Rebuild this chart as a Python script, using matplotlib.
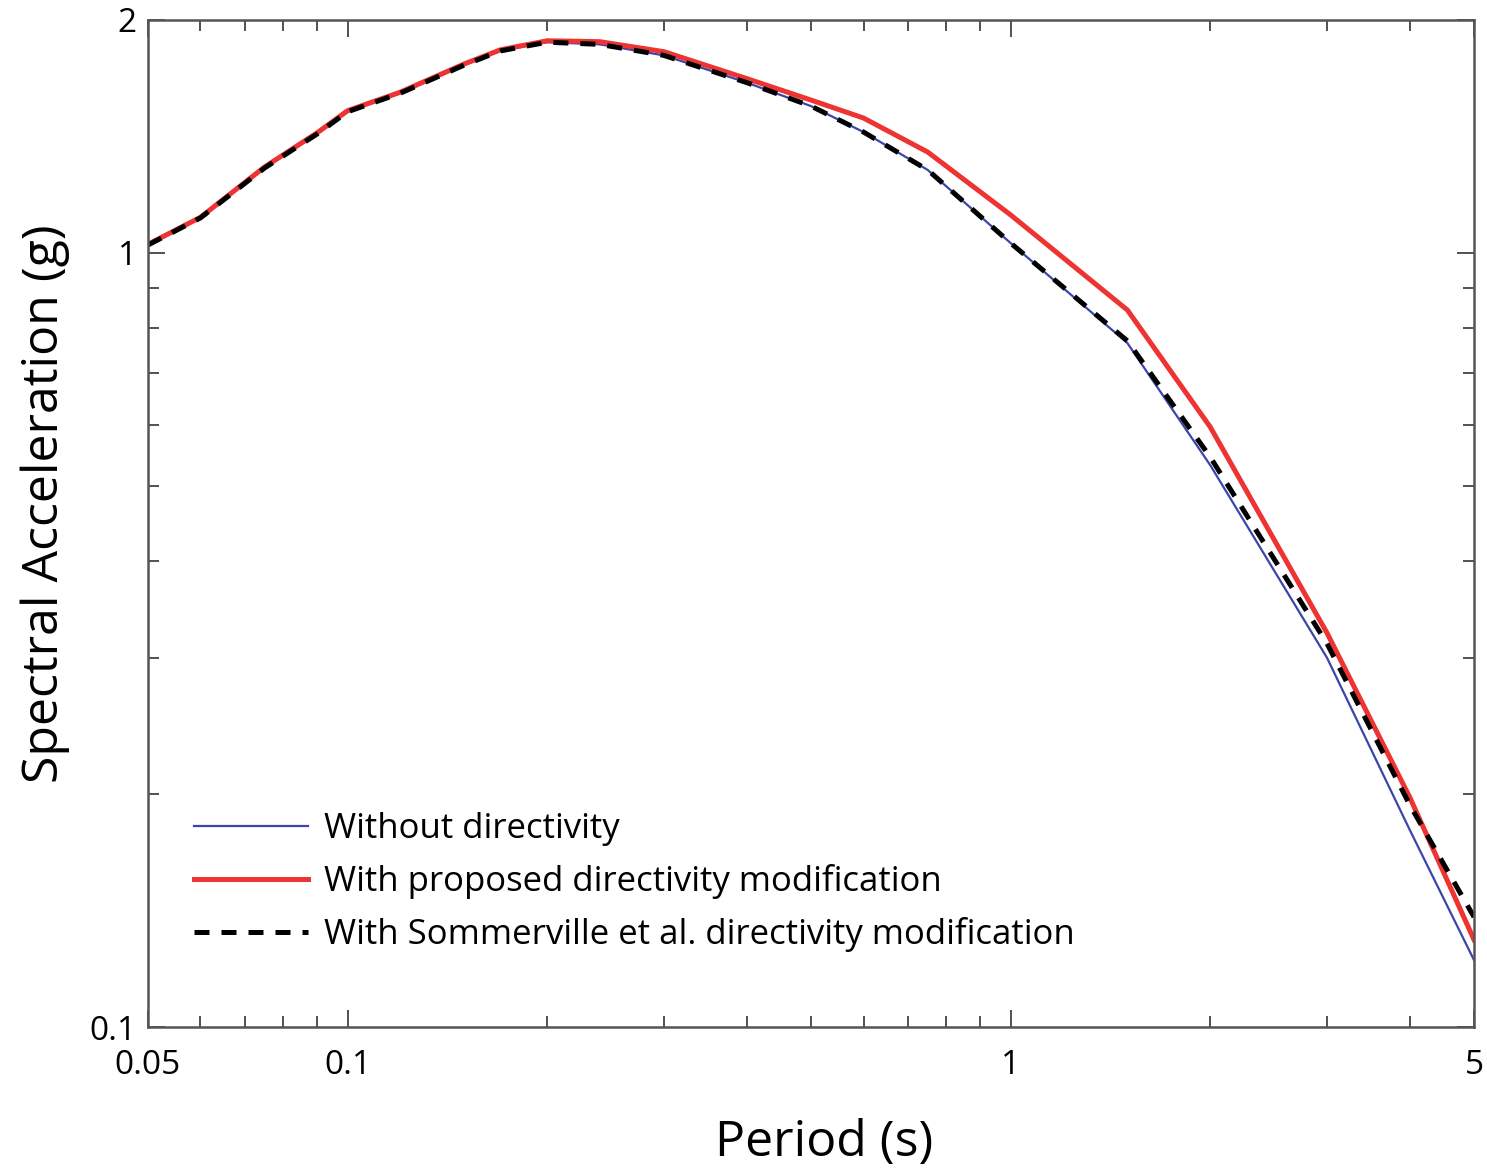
#!/usr/bin/env python3
"""
Response spectra with and without directivity modification (log-log).
"""

import matplotlib
matplotlib.use('Agg')
import matplotlib.pyplot as plt
from matplotlib.ticker import FixedLocator, LogLocator, NullFormatter, FixedFormatter

plt.rcParams['font.family'] = ['Open Sans', 'DejaVu Sans']

# Periods (s) and spectral accelerations (g)
period = [0.05, 0.06, 0.075, 0.09, 0.1, 0.12, 0.15, 0.17, 0.2, 0.24, 0.3,
          0.4, 0.5, 0.6, 0.75, 1.0, 1.5, 2.0, 3.0, 4.0, 5.0]
sa_none = [1.024, 1.11, 1.288, 1.425, 1.522, 1.608, 1.749, 1.824, 1.872, 1.86, 1.80,
           1.66, 1.548, 1.433, 1.28, 1.03, 0.765, 0.532, 0.300, 0.1797, 0.122]
sa_proposed = [1.026, 1.112, 1.292, 1.43, 1.527, 1.613, 1.755, 1.83, 1.88, 1.875, 1.82,
               1.68, 1.576, 1.494, 1.35, 1.12, 0.844, 0.596, 0.323, 0.198, 0.1296]
sa_sommerville = [1.024, 1.11, 1.288, 1.425, 1.522, 1.608, 1.749, 1.824, 1.872, 1.86, 1.80,
                  1.66, 1.548, 1.433, 1.28, 1.03, 0.77, 0.545, 0.313, 0.1936, 0.1387]

labels = ['Without directivity',
          'With proposed directivity modification',
          'With Sommerville et al. directivity modification']

x_ticks = [0.05, 0.1, 1, 5]
x_ticklabels = ['0.05', '0.1', '1', '5']
y_ticks = [0.1, 1, 2]
y_ticklabels = ['0.1', '1', '2']

fig = plt.figure(figsize=(14.87, 11.68), dpi=100)
ax = fig.add_axes([0.0995, 0.1207, 0.8918, 0.8622])

ax.plot(period, sa_none, color='#3a46a8', linewidth=1.6, label=labels[0])
ax.plot(period, sa_proposed, color='#ee3333', linewidth=3.6, label=labels[1])
ax.plot(period, sa_sommerville, color='black', linewidth=3.6, dashes=(3, 2.4),
        label=labels[2])

ax.set_xscale('log')
ax.set_yscale('log')
ax.set_xlim(0.05, 5)
ax.set_ylim(0.1, 2)

ax.xaxis.set_major_locator(FixedLocator(x_ticks))
ax.xaxis.set_major_formatter(FixedFormatter(x_ticklabels))
ax.xaxis.set_minor_locator(LogLocator(base=10, subs=range(2, 10), numticks=20))
ax.xaxis.set_minor_formatter(NullFormatter())
ax.yaxis.set_major_locator(FixedLocator(y_ticks))
ax.yaxis.set_major_formatter(FixedFormatter(y_ticklabels))
ax.yaxis.set_minor_locator(LogLocator(base=10, subs=range(2, 10), numticks=20))
ax.yaxis.set_minor_formatter(NullFormatter())

ax.tick_params(which='both', direction='in', top=True, right=True,
               colors='#333333', labelcolor='black', labelsize=24)
ax.tick_params(which='major', length=12, width=1.2, pad=8)
ax.tick_params(axis='x', which='major', pad=16)
ax.tick_params(which='minor', length=8, width=1.2)
for s in ax.spines.values():
    s.set_color('#555555')
    s.set_linewidth(1.8)

ax.set_xlabel('Period (s)', fontsize=36, labelpad=26, x=0.51)
ax.set_ylabel('Spectral Acceleration (g)', fontsize=36, labelpad=14, y=0.52)

ax.legend(loc='lower left', bbox_to_anchor=(0.011, 0.043), frameon=False,
          fontsize=25, handlelength=3.3, handletextpad=0.45, labelspacing=0.52)

plt.savefig('out.png', dpi=100)
